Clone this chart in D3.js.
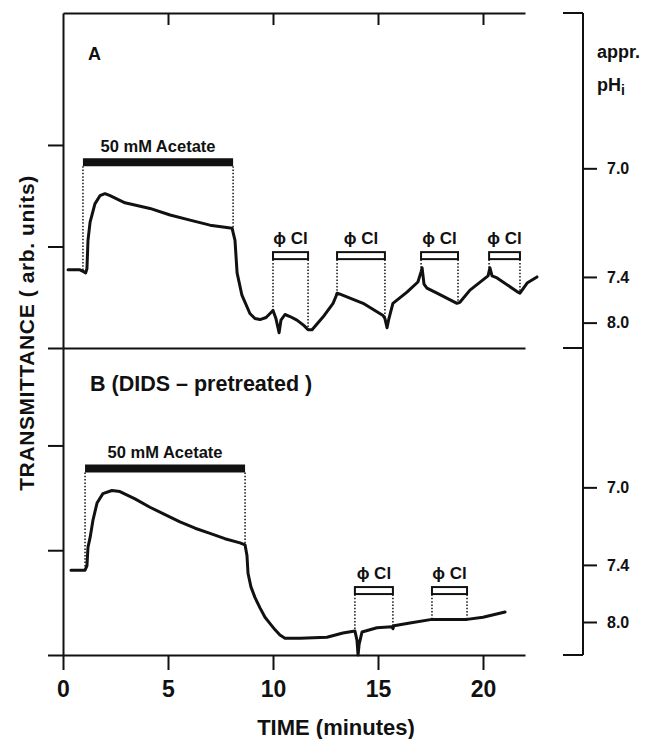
<!DOCTYPE html>
<html>
<head>
<meta charset="utf-8">
<script src="https://d3js.org/d3.v7.min.js"></script>
<style>
  body { margin: 0; background: #fff; }
  text {
    font-family: "Liberation Sans", Arial, sans-serif;
    font-weight: bold;
    fill: #111;
  }
  .axis path, .axis line { stroke: #111; stroke-width: 2; fill: none; }
</style>
</head>
<body>
<div id="chart"></div>
<script>
// time axis (minutes)
const timeTicks = [0, 5, 10, 15, 20];
const topTimeTicks = [5, 10, 15, 20];
// transmittance (arbitrary units) ticks
const transTicks = [0, 1, 2];
// approximate intracellular pH marks and where they fall in transmittance units
const phTicks = [7.0, 7.4, 8.0];
const phPosA = [1.77, 0.70, 0.25];
const phPosB = [1.60, 0.86, 0.315];

// trace A: [minutes, transmittance]
const traceA = [
  [0.24, 0.77], [0.81, 0.77], [1.0, 0.75], [1.08, 0.74], [1.14, 0.78], [1.19, 1.06],
  [1.29, 1.24], [1.52, 1.42], [1.76, 1.50], [2.0, 1.52], [2.24, 1.50], [2.95, 1.43],
  [4.14, 1.375], [5.1, 1.31], [6.05, 1.26], [7.0, 1.21], [7.71, 1.19], [8.05, 1.18],
  [8.19, 1.06], [8.29, 0.74], [8.52, 0.52], [8.9, 0.34], [9.14, 0.29], [9.38, 0.28],
  [9.67, 0.30], [10.0, 0.37], [10.14, 0.29], [10.29, 0.15], [10.38, 0.275], [10.57, 0.33],
  [10.81, 0.31], [11.14, 0.275], [11.48, 0.22], [11.67, 0.18], [11.86, 0.18], [12.38, 0.305],
  [12.86, 0.44], [13.0, 0.51], [13.05, 0.54], [13.19, 0.53], [14.29, 0.44], [15.24, 0.32],
  [15.33, 0.29], [15.43, 0.20], [15.52, 0.29], [15.71, 0.44], [16.38, 0.55], [16.9, 0.65],
  [17.05, 0.75], [17.1, 0.79], [17.19, 0.63], [17.33, 0.59], [17.81, 0.54], [18.76, 0.44],
  [18.9, 0.45], [19.38, 0.57], [20.24, 0.71], [20.33, 0.79], [20.43, 0.71], [20.67, 0.69],
  [21.67, 0.55], [21.76, 0.54], [22.1, 0.64], [22.57, 0.70]
];

// trace B (DIDS-pretreated)
const traceB = [
  [0.38, 0.81], [1.05, 0.81], [1.14, 0.85], [1.19, 1.03], [1.29, 1.12], [1.43, 1.29],
  [1.62, 1.45], [1.9, 1.54], [2.33, 1.57], [2.71, 1.56], [3.43, 1.49], [4.14, 1.41],
  [4.86, 1.34], [5.57, 1.27], [6.29, 1.21], [7.0, 1.16], [7.71, 1.11], [8.43, 1.07],
  [8.67, 1.05], [8.76, 0.95], [8.81, 0.78], [8.95, 0.65], [9.14, 0.55], [9.38, 0.45],
  [9.62, 0.36], [9.86, 0.30], [10.1, 0.24], [10.33, 0.19], [10.57, 0.16], [11.29, 0.16],
  [12.57, 0.17], [13.33, 0.21], [13.9, 0.23], [14.0, 0.14], [14.05, 0.0], [14.1, 0.10],
  [14.24, 0.22], [14.95, 0.26], [15.67, 0.27], [15.71, 0.25], [15.76, 0.28], [16.52, 0.305],
  [17.57, 0.34], [18.43, 0.34], [19.24, 0.34], [20.0, 0.36], [21.05, 0.41]
];

// perfusion periods (minutes)
const acetateA = [0.95, 8.1];
const acetateB = [1.05, 8.67];
const clA = [[10.0, 11.67], [13.05, 15.33], [17.05, 18.81], [20.29, 21.76]];
const clB = [[13.9, 15.71], [17.57, 19.24]];

const W = 651, H = 739;
const svg = d3.select("#chart").append("svg").attr("width", W).attr("height", H);

const x = d3.scaleLinear().domain([0, 22]).range([63, 525]);
const yA = d3.scaleLinear().domain([0, 3.3]).range([348, 13]);
const yB = d3.scaleLinear().domain([0, 2.93]).range([655, 348]);
const phX = 583;

const panels = [
  { y: yA, trace: traceA, acetate: acetateA, cl: clA, phPos: phPosA, acetateLevel: 1.83, clLevel: 0.91, topTicks: topTimeTicks },
  { y: yB, trace: traceB, acetate: acetateB, cl: clB, phPos: phPosB, acetateLevel: 1.78, clLevel: 0.615, topTicks: [] }
];

function valueAt(tr, t) {
  const i = d3.bisector(d => d[0]).left(tr, t);
  if (i <= 0) return tr[0][1];
  if (i >= tr.length) return tr[tr.length - 1][1];
  const a = tr[i - 1], b = tr[i];
  return a[1] + (b[1] - a[1]) * (t - a[0]) / (b[0] - a[0]);
}

panels.forEach(p => {
  const top = p.y(p.y.domain()[1]);

  // left transmittance axis
  svg.append("g").attr("class", "axis")
    .attr("transform", `translate(${x(0)},0)`)
    .call(d3.axisLeft(p.y).tickValues(transTicks).tickSize(15).tickSizeOuter(0).tickFormat(""));

  // upper frame line of the panel
  svg.append("g").attr("class", "axis")
    .attr("transform", `translate(0,${top})`)
    .call(d3.axisBottom(x).tickValues(p.topTicks).tickSize(12).tickSizeOuter(0).tickFormat(""));

  // pH scale on the right
  const ph = d3.scaleLinear().domain(phTicks).range(p.phPos.map(p.y));
  const gph = svg.append("g").attr("class", "axis")
    .attr("transform", `translate(${phX},0)`)
    .call(d3.axisRight(ph).tickValues(phTicks).tickSize(14).tickPadding(10)
      .tickSizeOuter(0).tickFormat(d3.format(".1f")));
  gph.select(".domain").remove();
  gph.selectAll("text").style("font-size", "16px");

  // acetate bar
  const ay = p.y(p.acetateLevel);
  svg.append("line")
    .attr("x1", x(p.acetate[0])).attr("x2", x(p.acetate[1]))
    .attr("y1", ay).attr("y2", ay)
    .attr("stroke", "#111").attr("stroke-width", 8);
  svg.append("text")
    .attr("x", x((p.acetate[0] + p.acetate[1]) / 2)).attr("y", ay - 10)
    .attr("text-anchor", "middle").style("font-size", "16.5px")
    .text("50 mM Acetate");
  p.acetate.forEach(t => {
    svg.append("line")
      .attr("x1", x(t)).attr("x2", x(t))
      .attr("y1", ay + 4).attr("y2", p.y(valueAt(p.trace, t)))
      .attr("stroke", "#111").attr("stroke-width", 1.5).attr("stroke-dasharray", "1.5,1.8");
  });

  // chloride-free bars
  const cy = p.y(p.clLevel);
  p.cl.forEach(c => {
    svg.append("rect")
      .attr("x", x(c[0])).attr("y", cy - 3.5)
      .attr("width", x(c[1]) - x(c[0])).attr("height", 7)
      .attr("fill", "#fff").attr("stroke", "#111").attr("stroke-width", 2);
    svg.append("text")
      .attr("x", x((c[0] + c[1]) / 2)).attr("y", cy - 12)
      .attr("text-anchor", "middle").style("font-size", "17px")
      .text("\u03d5 Cl");
    c.forEach(t => {
      svg.append("line")
        .attr("x1", x(t)).attr("x2", x(t))
        .attr("y1", cy + 4).attr("y2", p.y(valueAt(p.trace, t)))
        .attr("stroke", "#111").attr("stroke-width", 1.5).attr("stroke-dasharray", "1.5,1.8");
    });
  });

  // trace
  svg.append("path")
    .datum(p.trace)
    .attr("fill", "none").attr("stroke", "#111").attr("stroke-width", 3)
    .attr("stroke-linejoin", "round").attr("stroke-linecap", "round")
    .attr("d", d3.line().x(d => x(d[0])).y(d => p.y(d[1])));
});

// bottom time axis
const gx = svg.append("g").attr("class", "axis")
  .attr("transform", `translate(0,${yB(0)})`)
  .call(d3.axisBottom(x).tickValues(timeTicks).tickSize(15).tickPadding(11).tickSizeOuter(0));
gx.selectAll("text").style("font-size", "23px");

// right pH axis line with brackets
svg.append("line").attr("x1", phX).attr("x2", phX)
  .attr("y1", yA(yA.domain()[1])).attr("y2", yB(0))
  .attr("stroke", "#111").attr("stroke-width", 2);
[yA(yA.domain()[1]), yA(0), yB(0)].forEach(v => {
  svg.append("line").attr("x1", phX - 20).attr("x2", phX)
    .attr("y1", v).attr("y2", v)
    .attr("stroke", "#111").attr("stroke-width", 2);
});

// labels
svg.append("text").attr("x", 88).attr("y", 60).style("font-size", "18px").text("A");
svg.append("text").attr("x", 90).attr("y", 391).style("font-size", "21.5px").text("B (DIDS \u2013 pretreated )");
svg.append("text").attr("x", 597).attr("y", 58).style("font-size", "18px").text("appr.");
const phLab = svg.append("text").attr("x", 597).attr("y", 91).style("font-size", "18px");
phLab.append("tspan").text("pH");
phLab.append("tspan").attr("dy", 4).style("font-size", "14px").text("i");

svg.append("text")
  .attr("transform", "translate(34,333) rotate(-90)")
  .attr("text-anchor", "middle").style("font-size", "21px").style("letter-spacing", "0.6px")
  .text("TRANSMITTANCE ( arb. units)");

svg.append("text")
  .attr("x", 336).attr("y", 735)
  .attr("text-anchor", "middle").style("font-size", "22px")
  .text("TIME (minutes)");
</script>
</body>
</html>
